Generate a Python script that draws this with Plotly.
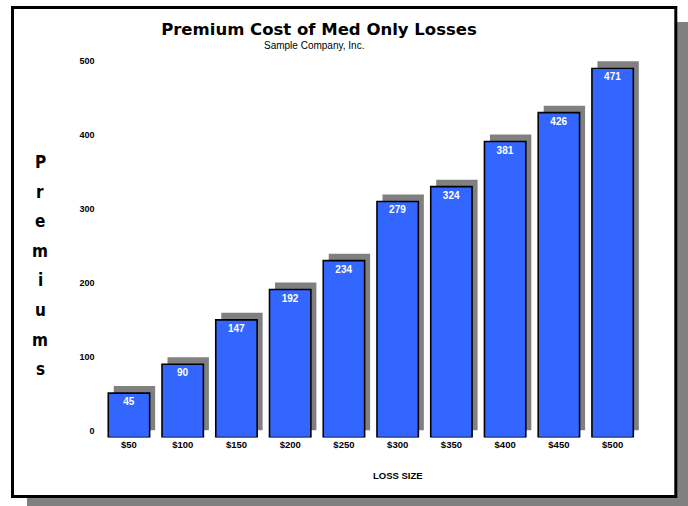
import plotly.graph_objects as go

# ---- data ----
loss_sizes = ["$50", "$100", "$150", "$200", "$250", "$300", "$350", "$400", "$450", "$500"]
premium_heights = [60, 99, 159, 200, 239, 319, 339, 400, 439, 499]   # drawn bar heights
premium_labels = [45, 90, 147, 192, 234, 279, 324, 381, 426, 471]    # printed values
y_tick_values = [0, 100, 200, 300, 400, 500]
y_axis_letters = "Premiums"

W, H = 688, 506


def fx(p):
    return p / W


def fy(p):
    return 1 - p / H


NARROW = "Liberation Sans Narrow, Arial Narrow, Liberation Sans, Arial, sans-serif"

fig = go.Figure()

# shadow bars (offset up/right)
fig.add_trace(go.Bar(
    x=loss_sizes, y=premium_heights,
    marker=dict(color="#808080", line=dict(width=0)),
    xaxis="x", yaxis="y", hoverinfo="skip", showlegend=False,
))

# main blue bars
fig.add_trace(go.Bar(
    x=loss_sizes, y=premium_heights,
    text=premium_labels, textposition="inside", insidetextanchor="end",
    textangle=0,
    insidetextfont=dict(family=NARROW, size=10, color="white", weight="bold"),
    marker=dict(color="#3366FF", line=dict(color="black", width=1.6)),
    xaxis="x2", yaxis="y2", showlegend=False,
))

# frame shapes
shapes = [
    dict(type="rect", xref="paper", yref="paper", layer="below",
         x0=fx(27), x1=fx(688), y0=fy(506), y1=fy(22),
         fillcolor="#808080", line=dict(width=0)),
    dict(type="rect", xref="paper", yref="paper", layer="below",
         x0=fx(12.5), x1=fx(675.8), y0=fy(496.5), y1=fy(7.5),
         fillcolor="white", line=dict(color="black", width=3)),
]

annotations = [
    dict(text="Sample Company, Inc.", xref="paper", yref="paper",
         x=fx(314), y=fy(45), xanchor="center", yanchor="middle", showarrow=False,
         font=dict(family=NARROW, size=10, color="black")),
    dict(text="LOSS SIZE", xref="paper", yref="paper",
         x=fx(398), y=fy(475), xanchor="center", yanchor="middle", showarrow=False,
         font=dict(family=NARROW, size=9.5, color="black", weight="bold")),
]
for i, ch in enumerate(y_axis_letters):
    annotations.append(dict(
        text=ch, xref="paper", yref="paper",
        x=fx(40), y=fy(162 + i * 29.6), xanchor="center", yanchor="middle",
        showarrow=False,
        font=dict(family="DejaVu Sans Condensed, DejaVu Sans, sans-serif", size=17,
                  color="black", weight="bold"),
    ))

fig.update_layout(
    width=W, height=H,
    margin=dict(l=0, r=0, t=0, b=0, pad=0, autoexpand=False),
    paper_bgcolor="white", plot_bgcolor="rgba(0,0,0,0)",
    bargap=0.23,
    title=dict(text="Premium Cost of Med Only Losses", x=fx(319), y=fy(29.5),
               xanchor="center", yanchor="middle", automargin=False,
               font=dict(family="DejaVu Sans, sans-serif", size=16.5, color="black", weight="bold")),
    xaxis=dict(domain=[fx(107.6), fx(645)], showticklabels=False, showgrid=False,
               zeroline=False, showline=False, ticks="", anchor="y", automargin=False),
    yaxis=dict(domain=[fy(430.5), fy(60.5)], range=[0, 500], tickvals=y_tick_values,
               showgrid=False, zeroline=False, showline=False, ticks="",
               ticklabelstandoff=12, anchor="x", automargin=False,
               tickfont=dict(family=NARROW, size=9, color="black", weight="bold")),
    xaxis2=dict(domain=[fx(102.1), fx(639.5)], showgrid=False, zeroline=False,
                showline=False, ticks="", anchor="y2", automargin=False,
                tickfont=dict(family=NARROW, size=9.5, color="black", weight="bold")),
    yaxis2=dict(domain=[fy(437.5), fy(67.5)], range=[0, 500], showticklabels=False,
                showgrid=False, zeroline=False, showline=False, ticks="", anchor="x2",
                automargin=False),
    shapes=shapes,
    annotations=annotations,
)

fig.write_html(
    "out.html",
    config={"displayModeBar": False},
    post_script="document.body.style.margin='0';document.body.style.overflow='hidden';",
)
